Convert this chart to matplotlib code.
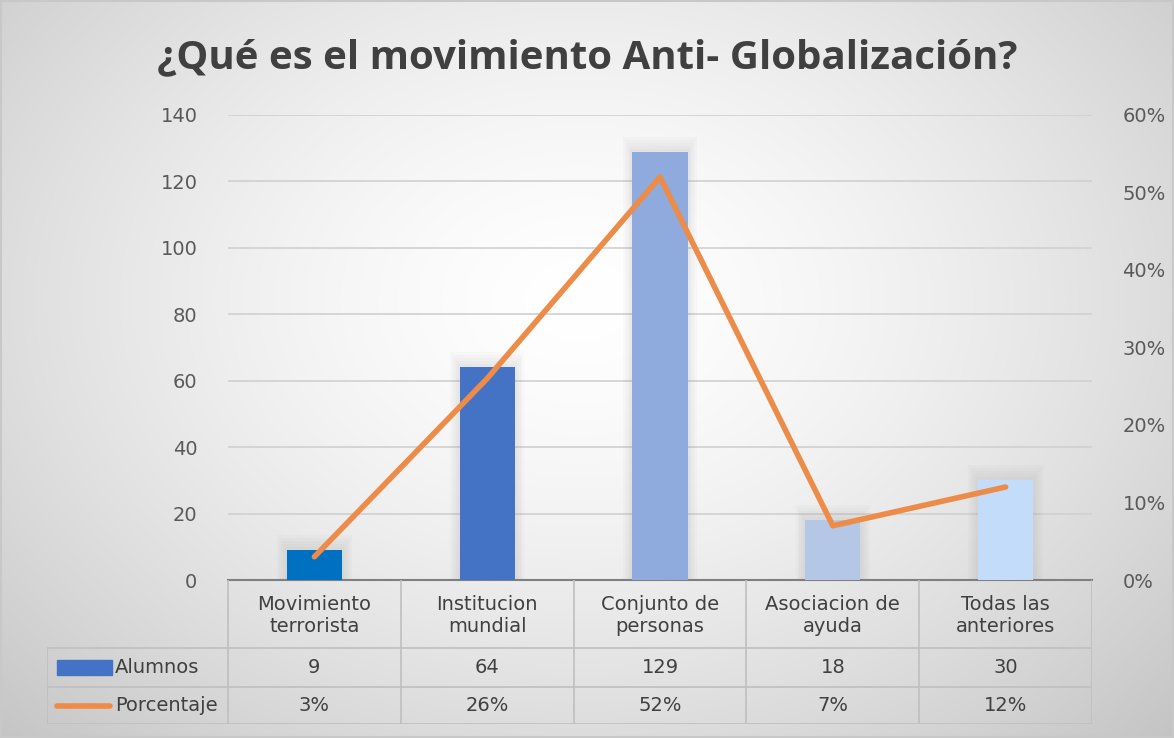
import numpy as np
import matplotlib
matplotlib.use('Agg')
import matplotlib.pyplot as plt
from matplotlib.patches import Rectangle

# data
categories = ['Movimiento\nterrorista', 'Institucion\nmundial', 'Conjunto de\npersonas',
              'Asociacion de\nayuda', 'Todas las\nanteriores']
alumnos = [9, 64, 129, 18, 30]
porcentaje = [0.03, 0.26, 0.52, 0.07, 0.12]
alumnos_labels = ['9', '64', '129', '18', '30']
porcentaje_labels = ['3%', '26%', '52%', '7%', '12%']
bar_colors = ['#0070C0', '#4472C4', '#8FAADC', '#B4C7E7', '#C2DCFA']
title = '¿Qué es el movimiento Anti- Globalización?'

W, H = 1174, 738
fig = plt.figure(figsize=(W / 100, H / 100), dpi=100)

# radial gradient background
bg = fig.add_axes([0, 0, 1, 1], zorder=-10)
yy, xx = np.mgrid[0:H, 0:W]
r = np.sqrt(((xx - 580) / 760.0) ** 2 + ((yy - 300) / 560.0) ** 2)
shade = 1.0 - 0.2 * np.clip(r, 0, 1.2) ** 1.5
bg.imshow(np.dstack([shade] * 3), extent=[0, W, H, 0], aspect='auto', interpolation='bilinear')
bg.add_patch(Rectangle((1, 1), W - 2, H - 2, fill=False, edgecolor='#c8c8c8', lw=1.5))
bg.set_xlim(0, W)
bg.set_ylim(H, 0)
bg.axis('off')

def fx(px):
    return px / W

def fy(py):
    return 1 - py / H

x0, x1, ytop, ybot = 228, 1092, 115, 580
ax = fig.add_axes([fx(x0), fy(ybot), fx(x1) - fx(x0), fy(ytop) - fy(ybot)])
ax.patch.set_alpha(0)
x = np.arange(len(categories))
# soft glow round the bars
for k in range(1, 6):
    ax.bar(x, np.array(alumnos) + 0.9 * k, width=0.32 + 0.022 * k,
           color='#808080', alpha=0.03, zorder=2, linewidth=0)
ax.bar(x, alumnos, width=0.32, color=bar_colors, zorder=3)
ax.set_xlim(-0.5, len(categories) - 0.5)
ax.set_ylim(0, 140)
ax.set_yticks(range(0, 141, 20))
ax.yaxis.grid(True, color='#d0d0d0', lw=1.2, zorder=0)
ax.set_axisbelow(True)
ax.set_xticks([])
for s in ['top', 'right', 'left']:
    ax.spines[s].set_visible(False)
ax.spines['bottom'].set_color('#7f7f7f')
ax.spines['bottom'].set_linewidth(1.5)
ax.tick_params(axis='y', length=0, labelsize=14, labelcolor='#595959', pad=22)

ax2 = ax.twinx()
ax2.plot(x, porcentaje, color='#ED8B48', lw=4, solid_capstyle='round',
         solid_joinstyle='round', zorder=5)
ax2.set_ylim(0, 0.6)
ax2.set_yticks(np.arange(0, 0.61, 0.1))
ax2.set_yticklabels(['%d%%' % round(v * 100) for v in np.arange(0, 0.61, 0.1)])
for s in ax2.spines.values():
    s.set_visible(False)
ax2.tick_params(axis='y', length=0, labelsize=14, labelcolor='#595959', pad=22)

fig.text(0.5, fy(58), title, ha='center', va='center', fontsize=29,
         fontweight='bold', color='#404040', family='Open Sans')

# data table below the axis
tl = 47
cw = (x1 - x0) / len(categories)
lx = -0.5 - (x0 - tl) / cw
tb = fig.add_axes([fx(tl), fy(724), fx(x1) - fx(tl), fy(ybot) - fy(724)])
tb.set_xlim(lx, len(categories) - 0.5)
tb.set_ylim(724, ybot)
tb.axis('off')
lc = '#bfbfbf'
r1, r2, r3 = 648, 687, 724
for i in range(len(categories) + 1):
    tb.plot([i - 0.5, i - 0.5], [ybot, r3], color=lc, lw=1.2)
tb.plot([lx, lx], [r1, r3], color=lc, lw=1.2)
for yv in (r1, r2, r3):
    tb.plot([lx, len(categories) - 0.5], [yv, yv], color=lc, lw=1.2)
tk = dict(ha='center', va='center', fontsize=14, color='#404040')
for i, c in enumerate(categories):
    tb.text(i, (ybot + r1) / 2 + 1, c, linespacing=1.2, **tk)
    tb.text(i, (r1 + r2) / 2, alumnos_labels[i], **tk)
    tb.text(i, (r2 + r3) / 2, porcentaje_labels[i], **tk)

def cx(px):
    return -0.5 + (px - x0) / cw

tb.add_patch(Rectangle((cx(57), 675), cx(112) - cx(57), -15, color='#4472C4'))
tb.text(cx(115), (r1 + r2) / 2, 'Alumnos', ha='left', va='center', fontsize=14, color='#404040')
tb.plot([cx(57), cx(110)], [706, 706], color='#ED8B48', lw=4, solid_capstyle='round')
tb.text(cx(115), (r2 + r3) / 2, 'Porcentaje', ha='left', va='center', fontsize=14, color='#404040')

fig.savefig('out.png', dpi=100)
